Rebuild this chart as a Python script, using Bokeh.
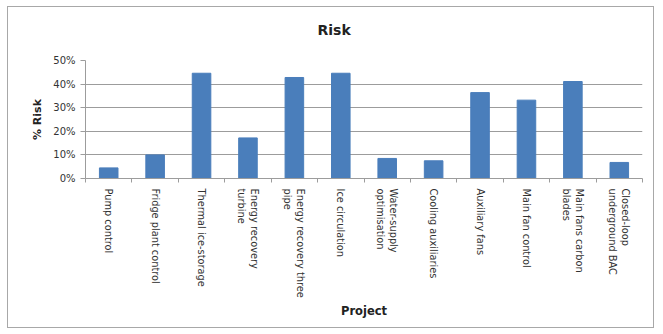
from bokeh.plotting import figure
from bokeh.models import FixedTicker, NumeralTickFormatter, Range1d, Title
from bokeh.embed import file_html
from bokeh.resources import INLINE

projects = ["Pump control", "Fridge plant control", "Thermal ice-storage",
            "Energy recovery\nturbine", "Energy recovery three\npipe", "Ice circulation",
            "Water-supply\noptimisation", "Cooling auxiliaries", "Auxiliary fans",
            "Main fan control", "Main fans carbon\nblades", "Closed-loop\nunderground BAC"]
risk = [0.045, 0.10, 0.446, 0.172, 0.428, 0.446, 0.085, 0.075, 0.364, 0.332, 0.411, 0.068]
y_ticks = [0, 0.1, 0.2, 0.3, 0.4, 0.5]

FONT = "DejaVu Sans"
GRID = "#9c9c9c"
n = len(projects)
xs = [i + 0.5 for i in range(n)]

p = figure(width=645, height=320, output_backend="svg", toolbar_location=None,
           x_range=Range1d(0, n), y_range=Range1d(0, 0.5),
           min_border_left=77, min_border_right=11, min_border_top=53, min_border_bottom=149)
p.margin = (7, 0, 0, 8)
p.styles = {"outline": "1px solid #a8a8a8"}

p.vbar(x=xs, top=risk, width=0.4, color="#4a7ebb")

# spacer between title and frame
p.add_layout(Title(text=" ", text_font_size="10px", standoff=10), "above")

p.title.text = "Risk"
p.title.align = "left"
p.title.offset = 232
p.title.standoff = 0
p.title.text_font = FONT
p.title.text_font_size = "14px"
p.title.text_font_style = "bold"
p.title.text_color = "#222222"

p.outline_line_color = None
p.xgrid.grid_line_color = None
p.ygrid.grid_line_color = GRID
p.ygrid.ticker = FixedTicker(ticks=y_ticks)

ya = p.yaxis[0]
ya.ticker = FixedTicker(ticks=y_ticks)
ya.formatter = NumeralTickFormatter(format="0%")
ya.axis_label = "% Risk"
ya.axis_label_text_font = FONT
ya.axis_label_text_font_size = "11px"
ya.axis_label_text_font_style = "bold"
ya.axis_label_text_color = "#222222"
ya.axis_label_standoff = 6
ya.major_label_standoff = 5
ya.major_label_text_font = FONT
ya.major_label_text_font_size = "10px"
ya.major_label_text_color = "#333333"
ya.axis_line_color = GRID
ya.major_tick_line_color = GRID
ya.major_tick_out = 5
ya.major_tick_in = 0
ya.minor_tick_line_color = None

xa = p.xaxis[0]
xa.ticker = FixedTicker(ticks=xs, minor_ticks=list(range(n + 1)))
xa.major_label_overrides = {x: lab for x, lab in zip(xs, projects)}
xa.major_label_orientation = "vertical"
xa.major_label_standoff = 4
xa.major_label_text_font = FONT
xa.major_label_text_font_size = "9.8px"
xa.major_label_text_color = "#333333"
xa.major_tick_line_color = None
xa.minor_tick_line_color = GRID
xa.minor_tick_out = 4
xa.minor_tick_in = 0
xa.axis_line_color = GRID
xa.axis_label = "Project"
xa.axis_label_text_font = FONT
xa.axis_label_text_font_size = "11.5px"
xa.axis_label_text_font_style = "bold"
xa.axis_label_text_color = "#222222"
xa.axis_label_standoff = 3

open("out.html", "w").write(file_html(p, INLINE))
